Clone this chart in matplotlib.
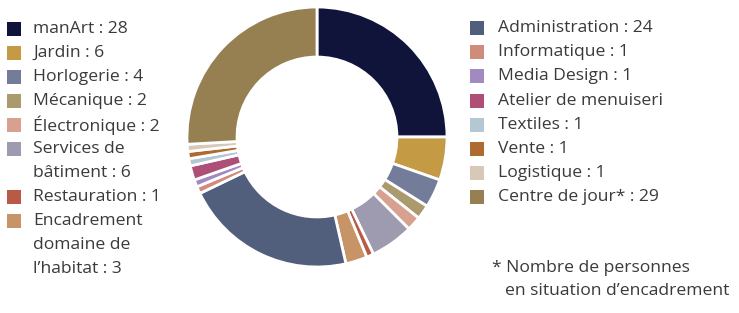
import matplotlib
matplotlib.use("Agg")
import matplotlib.pyplot as plt
from matplotlib.patches import Rectangle

categories = ["manArt", "Jardin", "Horlogerie", "Mécanique", "Électronique",
              "Services de bâtiment", "Restauration", "Encadrement domaine de l’habitat",
              "Administration", "Informatique", "Media Design", "Atelier de menuiserie",
              "Textiles", "Vente", "Logistique", "Centre de jour*"]
values = [28, 6, 4, 2, 2, 6, 1, 3, 24, 1, 1, 2, 1, 1, 1, 29]
colors = ["#11143A", "#C49A45", "#737C99", "#AB9A6E", "#D8A08F", "#9E9AB0",
          "#B85A45", "#C79468", "#525F7C", "#D08C7A", "#A08AC0", "#AE4F78",
          "#B3C8D2", "#AF6A30", "#D8C8B8", "#968052"]
left_labels = [["manArt : 28"], ["Jardin : 6"], ["Horlogerie : 4"], ["Mécanique : 2"],
               ["Électronique : 2"], ["Services de", "bâtiment : 6"], ["Restauration : 1"],
               ["Encadrement", "domaine de", "l’habitat : 3"]]
right_labels = [["Administration : 24"], ["Informatique : 1"], ["Media Design : 1"],
                ["Atelier de menuiseri"], ["Textiles : 1"], ["Vente : 1"],
                ["Logistique : 1"], ["Centre de jour* : 29"]]
footnote = ["* Nombre de personnes", "en situation d’encadrement"]

W, H = 739, 313
fig = plt.figure(figsize=(W / 100, H / 100), dpi=100)
plt.rcParams['font.family'] = ['Open Sans', 'DejaVu Sans']

cx, cy, R = 317, 137, 130
ax = fig.add_axes([(cx - R) / W, (H - cy - R) / H, 2 * R / W, 2 * R / H])
ax.pie(values, colors=colors, startangle=90, counterclock=False, radius=1,
       wedgeprops=dict(width=0.385, edgecolor="white", linewidth=2))
ax.set_xlim(-1, 1)
ax.set_ylim(-1, 1)
ax.set_aspect("equal")
ax.axis("off")

txtcol = "#3a3a3a"
fs = 12.6

def draw_legend(labels, cols, sq_x, tx, y0, step):
    row = 0
    for lines, c in zip(labels, cols):
        y = y0 + row * step
        fig.patches.append(Rectangle((sq_x / W, 1 - (y + 7) / H), 14 / W, 14 / H,
                                     transform=fig.transFigure, facecolor=c,
                                     edgecolor="none"))
        for j, ln in enumerate(lines):
            yy = y0 + (row + j) * step
            fig.text(tx / W, 1 - yy / H, ln, fontsize=fs, color=txtcol,
                     ha="left", va="center")
        row += len(lines)

draw_legend(left_labels, colors[:8], 7, 33, 29, 24)
draw_legend(right_labels, colors[8:], 470, 498, 28, 24.2)

fig.text(492 / W, 1 - 268 / H, footnote[0], fontsize=fs, color=txtcol, ha="left", va="center")
fig.text(505 / W, 1 - 291 / H, footnote[1], fontsize=fs, color=txtcol, ha="left", va="center")

fig.savefig("out.png", dpi=100, facecolor="white")
